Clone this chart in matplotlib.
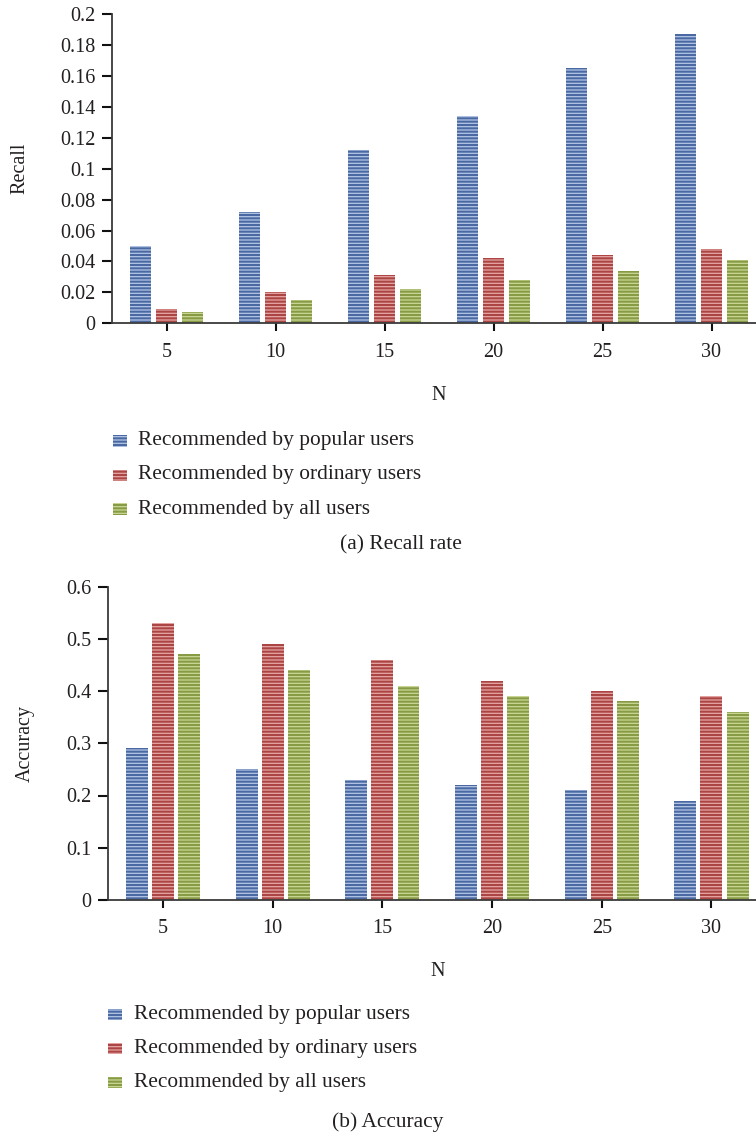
import matplotlib
matplotlib.use("Agg")
import matplotlib.pyplot as plt
from matplotlib.patches import Rectangle
from matplotlib.ticker import FuncFormatter, MultipleLocator
import numpy as np

plt.rcParams["font.family"] = ["Liberation Serif", "DejaVu Serif"]
plt.rcParams["hatch.linewidth"] = 1.5

# ---- data -------------------------------------------------------------
N_values = [5, 10, 15, 20, 25, 30]
series_names = [
    "Recommended by popular users",
    "Recommended by ordinary users",
    "Recommended by all users",
]
recall_popular = [0.050, 0.072, 0.112, 0.134, 0.165, 0.187]
recall_ordinary = [0.009, 0.020, 0.031, 0.042, 0.044, 0.048]
recall_all = [0.007, 0.015, 0.022, 0.028, 0.034, 0.041]

accuracy_popular = [0.29, 0.25, 0.23, 0.22, 0.21, 0.19]
accuracy_ordinary = [0.53, 0.49, 0.46, 0.42, 0.40, 0.39]
accuracy_all = [0.47, 0.44, 0.41, 0.39, 0.38, 0.36]

# (light face, dark stripe) per series
palette = [("#b3c6e6", "#4a69a2"), ("#e6a6a4", "#ab4544"), ("#cbd796", "#869b44")]
TEXT = "#231f20"
SPINE = "#3a3a3a"

W, H = 756, 1134
fig = plt.figure(figsize=(W / 100, H / 100), dpi=100)


def px_rect(left, top, right, bottom):
    return [left / W, 1 - bottom / H, (right - left) / W, (bottom - top) / H]


def draw_panel(ax, series, ymax, ystep, ylabel, ylabel_x, xlabel_y):
    x = np.arange(len(N_values))
    offset = 0.238
    for k, (vals, (face, dark)) in enumerate(zip(series, palette)):
        ax.bar(x + (k - 1) * offset, vals, width=0.2, color=face,
               edgecolor=dark, linewidth=0, hatch="-----", zorder=2)
    ax.set_xlim(-0.5, 5.5)
    ax.set_ylim(0, ymax)
    ax.set_xticks(x)
    ax.set_xticklabels([str(n) for n in N_values])
    ax.yaxis.set_major_locator(MultipleLocator(ystep))
    ax.yaxis.set_major_formatter(FuncFormatter(lambda v, p: f"{round(v, 4):g}"))
    for side in ("top", "right"):
        ax.spines[side].set_visible(False)
    for side in ("left", "bottom"):
        ax.spines[side].set_color(SPINE)
        ax.spines[side].set_linewidth(1.3)
    ax.tick_params(axis="y", direction="out", length=7, width=1.5,
                   color="#111111", labelsize=14.5, labelcolor=TEXT, pad=5)
    ax.tick_params(axis="x", direction="out", length=6, width=1.5,
                   color="#111111", labelsize=14.5, labelcolor=TEXT, pad=8)
    ax.set_ylabel(ylabel, fontsize=14.5, color=TEXT, va="center")
    ax.yaxis.set_label_coords(ylabel_x, 0.5)
    ax.set_xlabel("N", fontsize=14.5, color=TEXT, va="center")
    ax.xaxis.set_label_coords(0.5, xlabel_y)


def legend_block(x_square, x_text, rows_y):
    for (face, dark), name, y in zip(palette, series_names, rows_y):
        fig.add_artist(Rectangle((x_square / W, 1 - (y + 5.5) / H), 14 / W, 11 / H,
                                 transform=fig.transFigure, facecolor=face,
                                 edgecolor=dark, linewidth=0, hatch="-----"))
        fig.text(x_text / W, 1 - y / H, name, ha="left", va="center",
                 fontsize=15.4, color=TEXT)


ax1 = fig.add_axes(px_rect(112, 14, 766, 323.3))
draw_panel(ax1, [recall_popular, recall_ordinary, recall_all], 0.2, 0.02,
           "Recall", -0.1407, -0.232)
legend_block(113, 138, [441, 475, 509])
fig.text(340 / W, 1 - 545 / H, "(a) Recall rate", ha="left", va="center",
         fontsize=15.4, color=TEXT)

ax2 = fig.add_axes(px_rect(108.2, 586.5, 766.3, 900))
draw_panel(ax2, [accuracy_popular, accuracy_ordinary, accuracy_all], 0.6, 0.1,
           "Accuracy", -0.126, -0.2265)
legend_block(108, 134, [1014, 1048, 1082])
fig.text(332 / W, 1 - 1122 / H, "(b) Accuracy", ha="left", va="center",
         fontsize=15.4, color=TEXT)

fig.savefig("out.png", dpi=100)
